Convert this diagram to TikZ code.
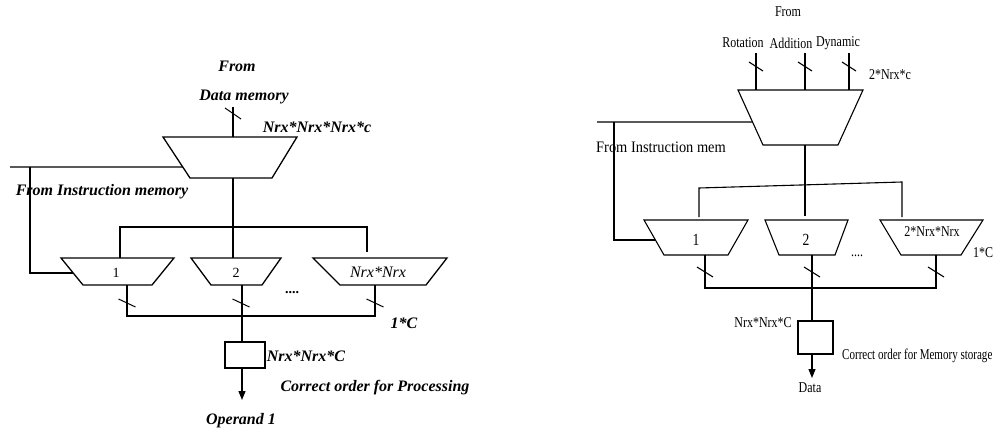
\documentclass[tikz,border=0pt]{standalone}
\usepackage{fontspec}
\setmainfont{Liberation Serif}
\newfontfamily\narrowfont[FakeStretch=0.8]{Liberation Serif}
\newfontfamily\midfont[FakeStretch=0.9]{Liberation Serif}
\usetikzlibrary{arrows.meta,calc}
\begin{document}
\begin{tikzpicture}[x=1pt,y=-1pt,
  lw/.style={line width=1.3pt},
  rw/.style={line width=1.1pt},
  ltext/.style={inner sep=0pt,font=\fontsize{16}{18}\selectfont\bfseries\itshape},
  lnum/.style={inner sep=0pt,font=\fontsize{14}{16}\selectfont},
  rtext/.style={inner sep=0pt,font=\narrowfont\fontsize{15}{17}\selectfont},
  arr/.style={-{Triangle[width=7pt,length=9pt]}},
  boxst/.style={draw,inner sep=0pt}]
\useasboundingbox (0,0) rectangle (997,431);

% ================= LEFT =================
\coordinate (Ltl) at (163,137); \coordinate (Ltr) at (297,137);
\coordinate (Lbr) at (272,178); \coordinate (Lbl) at (190,178);
\draw[lw] (Ltl) -- (Ltr) -- (Lbr) -- (Lbl) -- cycle;

\coordinate (A1tl) at (61,258); \coordinate (A1tr) at (174,258);
\coordinate (A1br) at (152,285); \coordinate (A1bl) at (83,285);
\draw[lw] (A1tl) -- (A1tr) -- (A1br) -- (A1bl) -- cycle;
\coordinate (A2tl) at (191,258); \coordinate (A2tr) at (281,258);
\coordinate (A2br) at (262,285); \coordinate (A2bl) at (211,285);
\draw[lw] (A2tl) -- (A2tr) -- (A2br) -- (A2bl) -- cycle;
\coordinate (A3tl) at (313,258); \coordinate (A3tr) at (447,258);
\coordinate (A3br) at (426,285); \coordinate (A3bl) at (340,285);
\draw[lw] (A3tl) -- (A3tr) -- (A3br) -- (A3bl) -- cycle;

\node[lnum] (a1) at (116,273) {1};
\node[lnum] (a2) at (236,273) {2};
\node[inner sep=0pt,font=\fontsize{16}{18}\selectfont\itshape] (a3) at (378,272) {Nrx*Nrx};

% input
\coordinate (Lin) at (233,107);
\draw[lw] (Lin) -- (Lin |- Ltl);
\draw[line width=1pt] (225,108) -- (241,119);
\node[ltext] (lfrom) at (237,66) {From};
\node[ltext] (ldm) at (244,97) {Data memory};
\node[ltext] (lnnn) at (317,127) {Nrx*Nrx*Nrx*c};

% select
\coordinate (Lss) at (10,167);
\coordinate (Lsj) at (30,167);
\coordinate (Lse) at ($(Ltl)!0.732!(Lbl)$);
\coordinate (A1s) at ($(A1tl)!0.556!(A1bl)$);
\draw[lw] (Lss) -- (Lse);
\draw[lw] (Lsj) |- (A1s);
\node[ltext] (lfim) at (102,192) {From Instruction memory};

% big output and bus
\coordinate (Lo) at (233,178);
\draw[lw] (Lo) -- (Lo |- A2tl);
\coordinate (Lb1) at (120,227); \coordinate (Lb3) at (367,227);
\draw[lw] (Lb1 |- A1tl) -- (Lb1) -- (Lb3) -- (367,252);

% outputs
\coordinate (Lq1) at (127,285); \coordinate (Lq2) at (242,285); \coordinate (Lq3) at (375,285);
\coordinate (Lj1) at (127,316); \coordinate (Lj2) at (242,316); \coordinate (Lj3) at (375,316);
\draw[lw] (Lq1) -- (Lj1) -- (Lj3) -- (Lq3);
\draw[lw] (Lq2) -- (Lj2);
\foreach \x in {127,241,375} \draw[line width=1pt] (\x-8.5,299) -- (\x+8.5,307);
\node[inner sep=0pt,font=\fontsize{14}{16}\selectfont\bfseries] (ldots) at (292,293) {....};
\node[ltext] (l1c) at (404,323) {1*C};

% box
\node[boxst,line width=1.6pt,minimum width=40pt,minimum height=26pt] (Lbox) at (245,355) {};
\draw[lw] (Lj2) -- (Lj2 |- Lbox.north);
\coordinate (Lend) at (242,400);
\draw[lw,arr] (Lj2 |- Lbox.south) -- (Lend);
\node[ltext] (lnnc) at (306,356) {Nrx*Nrx*C};
\node[ltext] (lcop) at (375,388) {Correct order for Processing};
\node[ltext] (lop) at (241,421) {Operand 1};

% ================= RIGHT =================
\coordinate (Rtl) at (738,90); \coordinate (Rtr) at (863,90);
\coordinate (Rbr) at (838,145); \coordinate (Rbl) at (763,145);
\draw[rw] (Rtl) -- (Rtr) -- (Rbr) -- (Rbl) -- cycle;

\coordinate (B1tl) at (644,220); \coordinate (B1tr) at (748,220);
\coordinate (B1br) at (728,255); \coordinate (B1bl) at (664,255);
\draw[rw] (B1tl) -- (B1tr) -- (B1br) -- (B1bl) -- cycle;
\coordinate (B2tl) at (765,220); \coordinate (B2tr) at (848,220);
\coordinate (B2br) at (835,255); \coordinate (B2bl) at (779,255);
\draw[rw] (B2tl) -- (B2tr) -- (B2br) -- (B2bl) -- cycle;
\coordinate (B3tl) at (880,220); \coordinate (B3tr) at (983,220);
\coordinate (B3br) at (961,255); \coordinate (B3bl) at (901,255);
\draw[rw] (B3tl) -- (B3tr) -- (B3br) -- (B3bl) -- cycle;

\node[rtext,font=\narrowfont\fontsize{17}{19}\selectfont] (b1) at (696,240) {1};
\node[rtext,font=\narrowfont\fontsize{17}{19}\selectfont] (b2) at (806,240) {2};
\node[rtext] (b3) at (932,232) {2*Nrx*Nrx};

% inputs
\node[rtext] (rfrom) at (788,12) {From};
\node[rtext] (rrot) at (743,43) {Rotation};
\node[rtext] (radd) at (791,43) {Addition};
\node[rtext] (rdyn) at (838,43) {Dynamic};
\foreach \x in {756,805,849} {
  \draw[rw] (\x,53) -- (\x,90);
  \draw[rw] (\x-7,62) -- (\x+7,71);
}
\node[rtext] (rnc) at (890,75) {2*Nrx*c};

% select
\coordinate (Rss) at (597,122);
\coordinate (Rsj) at (614,122);
\coordinate (Rse) at ($(Rtl)!0.582!(Rbl)$);
\coordinate (B1s) at ($(B1tl)!0.571!(B1bl)$);
\draw[rw] (Rss) -- (Rse);
\draw[rw] (Rsj) |- (B1s);
\node[inner sep=0pt,font=\midfont\fontsize{16}{18}\selectfont] (rfim) at (661,147) {From Instruction mem};

% big output and bus
\coordinate (Ro) at (805,145);
\draw[rw] (Ro) -- (805,216);
\coordinate (Rb1) at (699,188); \coordinate (Rb3) at (902,182);
\draw[rw] (699,217) -- (Rb1) -- (Rb3) -- (902,217);

% outputs
\coordinate (Rq1) at (705,255); \coordinate (Rq2) at (812,255); \coordinate (Rq3) at (936,255);
\coordinate (Rj1) at (705,288); \coordinate (Rj2) at (812,288); \coordinate (Rj3) at (936,288);
\draw[rw] (Rq1) -- (Rj1) -- (Rj3) -- (Rq3);
\draw[rw] (Rq2) -- (Rj2);
\foreach \x in {705,812,936} \draw[rw] (\x-8,267) -- (\x+8,277);
\node[rtext] (rdots) at (857,256) {....};
\node[rtext,anchor=west] (r1c) at (973,253) {1*C};

% box
\node[boxst,rw,minimum width=35pt,minimum height=33pt] (Rbox) at (815.5,337.5) {};
\draw[rw] (Rj2) -- (Rj2 |- Rbox.north);
\coordinate (Rend) at (812,378);
\draw[rw,arr] (Rj2 |- Rbox.south) -- (Rend);
\node[rtext] (rnnc) at (763,323) {Nrx*Nrx*C};
\node[rtext,anchor=west] (rcom) at (842,356) {\scalebox{0.92}[1]{Correct order for Memory storage}};
\node[rtext] (rdata) at (810,388) {Data};
\end{tikzpicture}
\end{document}
